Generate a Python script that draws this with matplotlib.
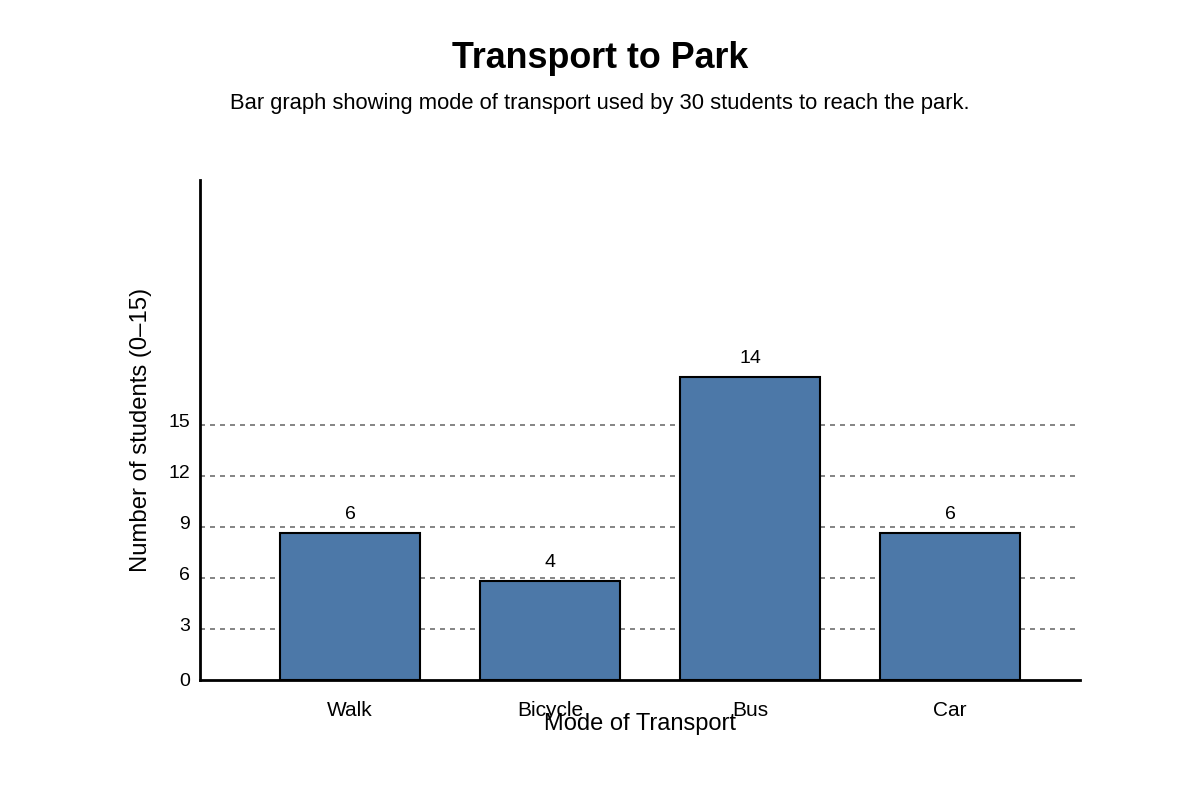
import matplotlib
matplotlib.use("Agg")
import matplotlib.pyplot as plt
import matplotlib.transforms as mtransforms

plt.rcParams['font.family'] = ['Liberation Sans', 'DejaVu Sans']

# data
modes = ['Walk', 'Bicycle', 'Bus', 'Car']
counts = [6, 4, 14, 6]                    # labels printed above the bars
bar_heights = [8.66, 5.82, 17.84, 8.66]   # heights as drawn against the axis scale
y_ticks = [0, 3, 6, 9, 12, 15]

bar_color = '#4c78a8'

fig = plt.figure(figsize=(12, 8), dpi=100)
ax = fig.add_axes([200 / 1200, 120 / 800, 880 / 1200, 500 / 800])

x = list(range(len(modes)))
ax.bar(x, bar_heights, width=0.7, color=bar_color, edgecolor='black',
       linewidth=1.5, zorder=3)

for xi, h, c in zip(x, bar_heights, counts):
    ax.annotate(str(c), (xi, h), xytext=(0, 7), textcoords='offset points',
                ha='center', va='bottom', fontsize=14)

ax.set_xlim(-0.75, 3.65)
ax.set_ylim(0, 29.4)

ax.set_yticks(y_ticks)
ax.set_yticklabels([str(t) for t in y_ticks], fontsize=14)
ax.set_xticks(x)
ax.set_xticklabels(modes, fontsize=15)
ax.tick_params(axis='both', length=0)
ax.tick_params(axis='y', pad=7)
ax.tick_params(axis='x', pad=15)

# y tick labels sit a little above their guide lines
shift = mtransforms.ScaledTranslation(0, 4 / 100, fig.dpi_scale_trans)
for lab in ax.get_yticklabels()[1:]:
    lab.set_transform(lab.get_transform() + shift)

# dashed guide lines (not at 0)
for t in y_ticks[1:]:
    ax.axhline(t, xmin=0, xmax=0.997, color='#707070', linestyle=(0, (3, 3)),
               linewidth=1.2, zorder=1)

for side in ['top', 'right']:
    ax.spines[side].set_visible(False)
ax.spines['left'].set_linewidth(2)
ax.spines['bottom'].set_linewidth(2)

ax.set_ylabel('Number of students (0\u201315)', fontsize=17.2, labelpad=12)
ax.set_xlabel('Mode of Transport', fontsize=17, labelpad=-5)

fig.text(0.5, 1 - 58 / 800, 'Transport to Park', ha='center', va='center',
         fontsize=25.8, fontweight='bold')
fig.text(0.5, 1 - 103 / 800,
         'Bar graph showing mode of transport used by 30 students to reach the park.',
         ha='center', va='center', fontsize=15.8)

fig.savefig('out.png', dpi=100)
